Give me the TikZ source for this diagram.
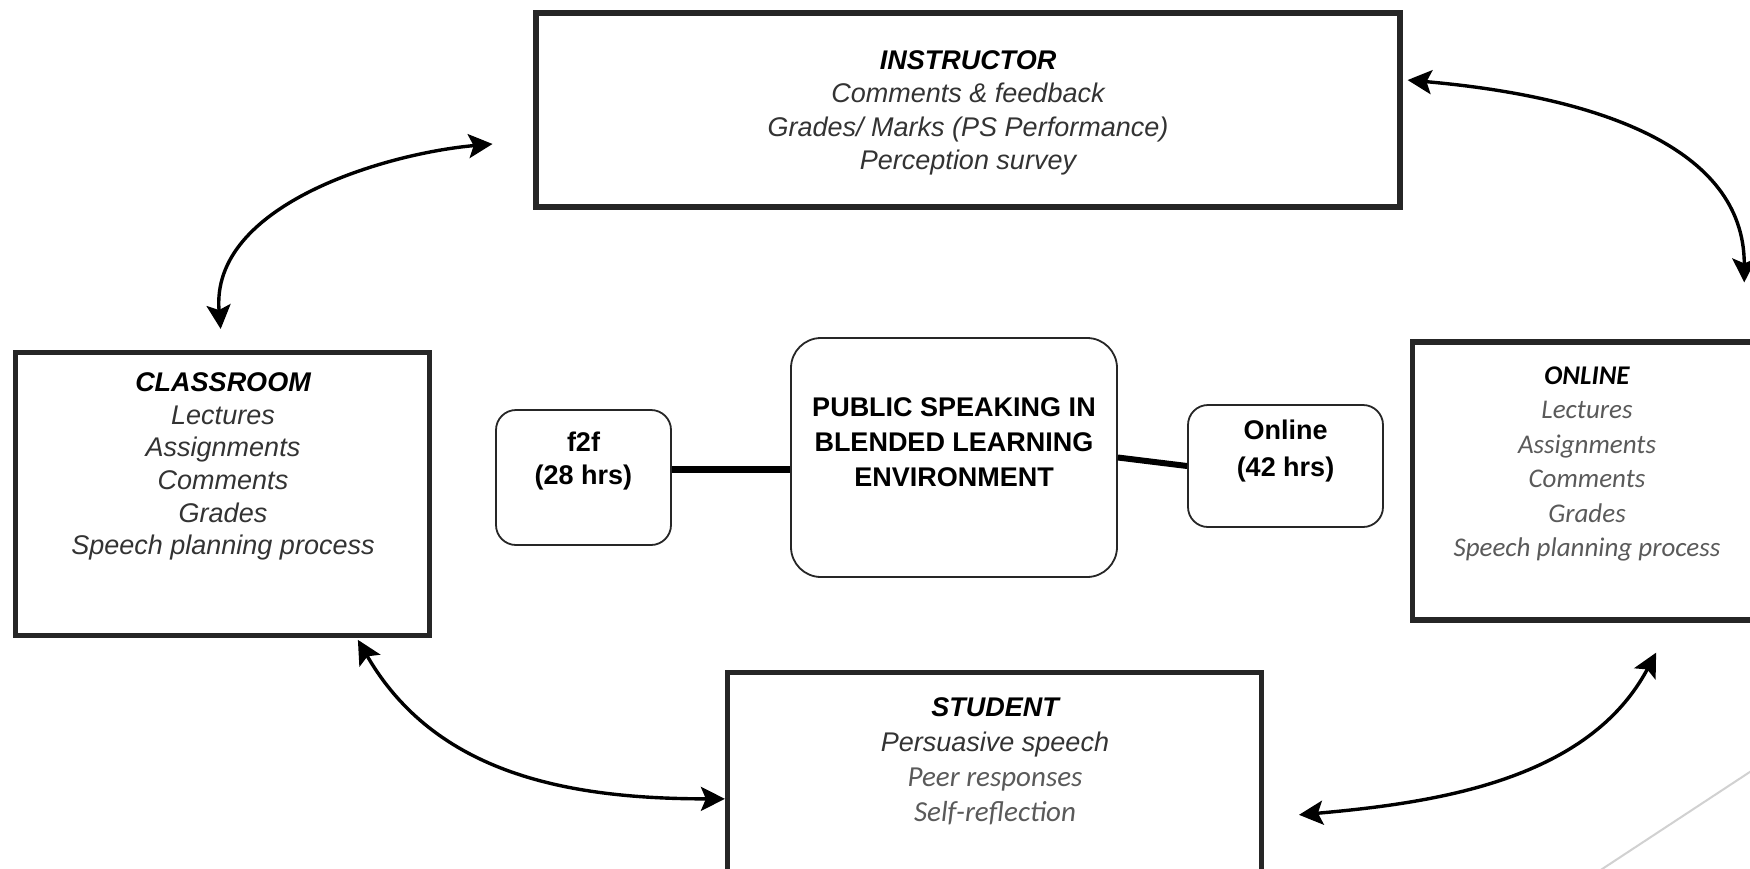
\documentclass[tikz,border=0pt]{standalone}
\usepackage{fontspec}
\setmainfont{Liberation Sans}
\newfontfamily\calibrifont{Carlito}
\usepackage{tikz}
\usetikzlibrary{arrows.meta}

\definecolor{inkgray}{HTML}{333333}
\definecolor{softgray}{HTML}{5A5A5A}

\begin{document}
\begin{tikzpicture}[x=0.5pt,y=-0.5pt,
    bigbox/.style={draw=black!85,line width=2.6pt,inner sep=0pt},
    softbox/.style={draw=black!85,line width=0.9pt,rounded corners=10pt,inner sep=0pt},
    boxtext/.style={align=center,text=inkgray,inner sep=0pt,
        font=\fontsize{13.5pt}{#1}\selectfont\itshape},
    boxtext/.default=16.5pt,
    caltext/.style={align=center,text=softgray,inner sep=0pt,
        font=\calibrifont\fontsize{13.5pt}{#1}\selectfont\itshape},
    caltext/.default=17.2pt,
    midtext/.style={align=center,text=black,inner sep=0pt,
        font=\fontsize{13.5pt}{#1}\selectfont\bfseries},
    midtext/.default=17.5pt]
    \useasboundingbox (0,0) rectangle (1750,868);
    \fill[white] (0,0) rectangle (1750,868);
    \clip (0,0) rectangle (1750,868);

    \begin{scope}
        \node[bigbox,minimum width=432pt,minimum height=97pt] (instr) at (968,110) {};
        \node[bigbox,minimum width=207pt,minimum height=141.5pt] (class) at (222.5,494) {};
        \node[bigbox,minimum width=174.5pt,minimum height=139pt] (online) at (1587,481) {};
        \node[bigbox,minimum width=267pt,minimum height=107.5pt] (stud) at (994.5,780) {};
        \node[softbox,minimum width=87.5pt,minimum height=67.5pt] (f2f) at (583.5,477.5) {};
        \node[softbox,minimum width=163pt,minimum height=119.5pt,rounded corners=15pt] (pse) at (954,457.5) {};
        \node[softbox,minimum width=97.5pt,minimum height=61pt] (onl) at (1285.5,466) {};
    \end{scope}

    % box texts
    \node[boxtext=16.7pt] (instrtxt) at (968,113) {{\color{black}\bfseries INSTRUCTOR}\\
        Comments \& feedback\\Grades/ Marks (PS Performance)\\Perception survey};
    \node[boxtext=16.3pt] (classtxt) at (223,466.5) {{\color{black}\bfseries CLASSROOM}\\
        Lectures\\Assignments\\Comments\\Grades\\Speech planning process};
    \node[caltext] (onlinetxt) at (1587,464) {{\color{black}\bfseries ONLINE}\\
        Lectures\\Assignments\\Comments\\Grades\\Speech planning process};
    \node[boxtext=17.5pt] (studtxt) at (995,761) {{\color{black}\bfseries STUDENT}\\
        Persuasive speech\\
        {\calibrifont\fontsize{14.5pt}{17.5pt}\selectfont\color{softgray}Peer responses}\\
        {\calibrifont\fontsize{14.5pt}{17.5pt}\selectfont\color{softgray}Self-reflection}};
    \node[midtext] (psetxt) at (954,442) {PUBLIC SPEAKING IN\\BLENDED LEARNING\\ENVIRONMENT};
    \node[midtext=16.5pt] (f2ftxt) at (583.5,461.5) {f2f\\(28 hrs)};
    \node[midtext=18.5pt] (onltxt) at (1285.5,451.5) {Online\\(42 hrs)};

    % plain links
    \draw[line width=3.5pt] (f2f.5) -- (f2f.5 -| pse.west);
    \draw[line width=3pt] (pse.east) -- (onl.west);

    \begin{scope}[>={Stealth[length=12pt,width=12pt,inset=2.5pt]},
                  every edge/.style={draw=black,line width=1.7pt,<->}]
        \path (class.north) edge[out=95,in=185,shorten <=10.5pt,shorten >=20.5pt] (instr.184);
        \path (instr.4) edge[out=-5,in=90,looseness=1.15,shorten <=2.5pt,shorten >=28.5pt] (online.42);
        \path (class.-47) edge[out=-60,in=180,shorten <=1pt] (stud.184);
        \path (stud.-8) edge[out=5,in=-118,shorten <=17.5pt,shorten >=17pt] (online.-59);
    \end{scope}

    % slide corner
    \draw[black!18,line width=1pt] (1590,877) -- (1765,762);
\end{tikzpicture}
\end{document}
